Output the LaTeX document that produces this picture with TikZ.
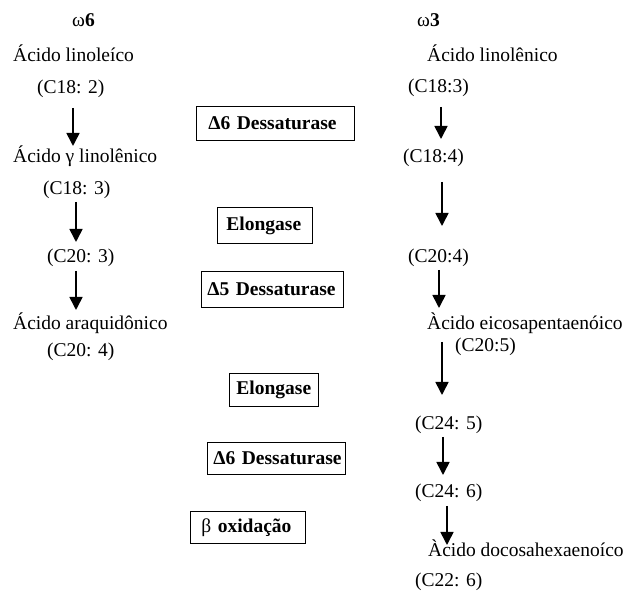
\documentclass[tikz,border=0pt]{standalone}
\usepackage{fontspec}
\setmainfont{Liberation Serif}
\usetikzlibrary{arrows.meta}
\begin{document}
\begin{tikzpicture}[x=1pt,y=-1pt,
  font=\fontsize{19.5}{23}\selectfont,
  lbl/.style={anchor=base west, inner sep=0pt},
  enz/.style={draw, line width=0.8pt, anchor=north west, align=left, inner ysep=0pt,
              font=\fontsize{19.5}{23}\selectfont\bfseries},
  flow/.style={line width=1.6pt, -{Triangle[width=13pt,length=13pt]}}]
\useasboundingbox (0,0) rectangle (625,601);

% left column (omega 6)
\node[lbl] (w6) at (72,27) {ω\textbf{6}};
\node[lbl] (l1) at (13,62) {Ácido linoleíco};
\node[lbl] (l1c) at (37,94) {(C18: 2)};
\node[lbl] (l2) at (13,163) {Ácido γ linolênico};
\node[lbl] (l2c) at (43,195) {(C18: 3)};
\node[lbl] (l3c) at (47,263) {(C20: 3)};
\node[lbl] (l4) at (13,330) {Ácido araquidônico};
\node[lbl] (l4c) at (47,357) {(C20: 4)};

% right column (omega 3)
\node[lbl] (w3) at (417,27) {ω\textbf{3}};
\node[lbl] (r1) at (427,62) {Ácido linolênico};
\node[lbl] (r1c) at (408,93) {(C18:3)};
\node[lbl] (r2c) at (403,163) {(C18:4)};
\node[lbl] (r3c) at (408,263) {(C20:4)};
\node[lbl] (r4) at (427,330) {Àcido eicosapentaenóico};
\node[lbl] (r4c) at (455,352) {(C20:5)};
\node[lbl] (r5c) at (415,430) {(C24: 5)};
\node[lbl] (r6c) at (415,498) {(C24: 6)};
\node[lbl] (r7) at (428,557) {Àcido docosahexaenoíco};
\node[lbl] (r7c) at (415,587) {(C22: 6)};

% enzymes
\node[enz, inner xsep=12pt, text width=134pt, minimum height=34pt] (e1) at (196,106) {\mbox{Δ6 Dessaturase}};
\node[enz, inner xsep=9pt, text width=77pt, minimum height=36pt] (e2) at (217,207) {\mbox{Elongase}};
\node[enz, inner xsep=6pt, text width=130pt, minimum height=36pt] (e3) at (201,271) {\mbox{Δ5 Dessaturase}};
\node[enz, inner xsep=7pt, text width=75pt, minimum height=33pt] (e4) at (229,373) {\mbox{Elongase}};
\node[enz, inner xsep=6pt, text width=126pt, minimum height=32pt] (e5) at (207,442) {\mbox{Δ6 Dessaturase}};
\node[enz, inner xsep=11pt, text width=93pt, minimum height=32pt] (e6) at (190,511) {\mbox{\mdseries β \bfseries oxidação}};

% arrow end points
\coordinate (a1s) at (73,108);  \coordinate (a1e) at (73,146);
\coordinate (a2s) at (76,202);  \coordinate (a2e) at (76,242);
\coordinate (a3s) at (76,271);  \coordinate (a3e) at (76,310);
\coordinate (b1s) at (441,107); \coordinate (b1e) at (441,139);
\coordinate (b2s) at (442,182); \coordinate (b2e) at (442,226);
\coordinate (b3s) at (439,270); \coordinate (b3e) at (439,308);
\coordinate (b4s) at (442,342); \coordinate (b4e) at (442,395);
\coordinate (b5s) at (443,437); \coordinate (b5e) at (443,475);
\coordinate (b6s) at (447,506); \coordinate (b6e) at (447,545);

\foreach \s/\e in {a1s/a1e,a2s/a2e,a3s/a3e,b1s/b1e,b2s/b2e,b3s/b3e,b4s/b4e,b5s/b5e,b6s/b6e}
  \draw[flow] (\s) -- (\e);
\end{tikzpicture}
\end{document}
